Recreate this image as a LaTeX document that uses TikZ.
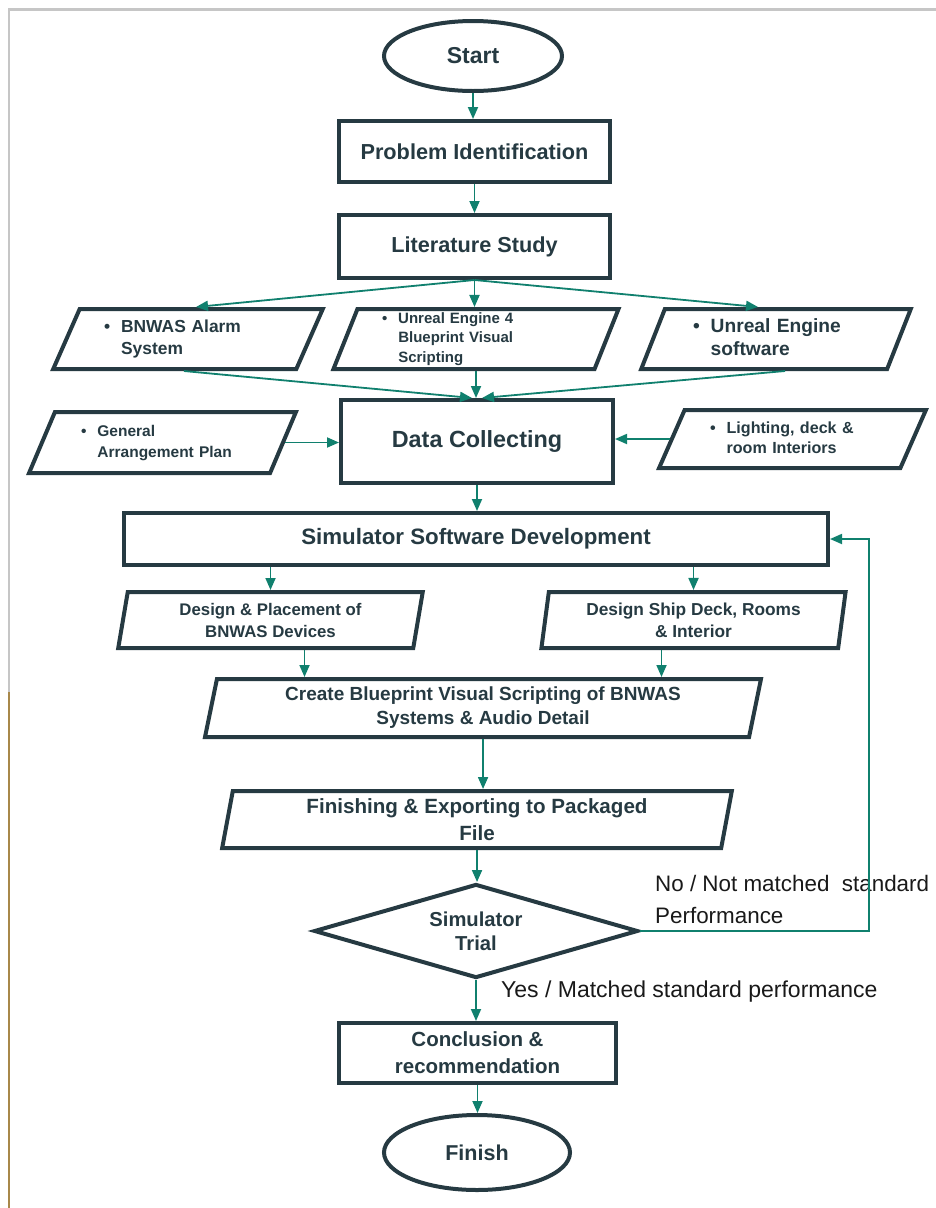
\documentclass[tikz,border=0pt]{standalone}
\usepackage{fontspec}
\setmainfont{Liberation Sans}
\usetikzlibrary{shapes.geometric,arrows.meta}
\definecolor{boxline}{HTML}{263A42}
\definecolor{flowline}{HTML}{10806E}
\definecolor{framegray}{HTML}{C6C6C6}
\definecolor{frametan}{HTML}{A8884A}
\newcommand{\bxfont}[2]{\fontsize{#1}{#2}\selectfont\bfseries}
\newcommand{\bul}[1]{\begin{tabular}[c]{@{}l@{\hspace{11pt}}l@{}}\textbullet&#1\end{tabular}}
\tikzset{
  base/.style={draw=boxline, line width=4pt, text=boxline, inner sep=0pt, align=center},
  proc/.style={base, rectangle},
  term/.style={base, ellipse},
  para/.style={base, trapezium, trapezium stretches, trapezium left angle=#1, trapezium right angle={180-#1}},
  dec/.style={base, diamond, aspect=3.45},
  flow/.style={draw=flowline, line width=1.8pt, -{Triangle[width=10pt,length=12pt]}},
  lbl/.style={anchor=west, inner sep=0pt, text=black!90},
}
\begin{document}
\begin{tikzpicture}[x=1pt,y=-1pt]
\useasboundingbox (0,0) rectangle (936,1208);
\draw[line width=3pt, framegray] (8,9.5) -- (936,9.5);
\draw[line width=2.5pt, framegray] (9,8) -- (9,692);
\draw[line width=2.5pt, frametan] (9,692) -- (9,1208);

\node[term, minimum width=178, minimum height=70, font=\bxfont{23}{27}] (start) at (473,56) {Start};
\node[proc, minimum width=271, minimum height=61, font=\bxfont{21.7}{26}] (prob) at (474.5,151.5) {Problem Identification};
\node[proc, minimum width=271, minimum height=63, font=\bxfont{21.7}{26}] (lit) at (474.5,246.5) {Literature Study};
\node[para=65, minimum width=270, minimum height=60, text width=168, align=left, font=\bxfont{17.4}{22}] (bnwas) at (188,339) {\bul{BNWAS Alarm\\&System}};
\node[para=72, minimum width=286, minimum height=60, text width=188, align=left, font=\bxfont{15}{19.5}] (ue4) at (476,339) {\bul{Unreal Engine 4\\&Blueprint Visual\\&Scripting}};
\node[para=69, minimum width=270, minimum height=60, text width=166, align=left, font=\bxfont{19.2}{23}] (uesw) at (776,339) {\bul{Unreal Engine\\&software}};
\node[proc, minimum width=272, minimum height=83, font=\bxfont{23.4}{28}] (data) at (477,441.5) {Data Collecting};
\node[para=65, minimum width=267, minimum height=61, text width=163, align=left, font=\bxfont{15.5}{21}] (gap) at (162.5,442.5) {\bul{General\\&Arrangement Plan}};
\node[para=64, minimum width=267, minimum height=58, text width=165, align=left, font=\bxfont{16.1}{20}] (light) at (792.5,439) {\bul{Lighting, deck \&\\&room Interiors}};
\node[proc, minimum width=704, minimum height=52, font=\bxfont{22.3}{26}] (sim) at (476,539) {Simulator Software Development};
\node[para=80, minimum width=305, minimum height=56, font=\bxfont{16.8}{22}] (place) at (270.5,620) {Design \& Placement of\\BNWAS Devices};
\node[para=81, minimum width=305, minimum height=56, font=\bxfont{17.3}{22}] (ship) at (693.5,620) {Design Ship Deck, Rooms\\\& Interior};
\node[para=78, minimum width=558, minimum height=58, font=\bxfont{19}{24}] (create) at (483,708) {Create Blueprint Visual Scripting of BNWAS\\Systems \& Audio Detail};
\node[para=80, minimum width=510, minimum height=57, font=\bxfont{20.6}{27}] (fin) at (477,819.5) {Finishing \& Exporting to Packaged\\File};
\node[dec, minimum width=324, minimum height=94, font=\bxfont{20.2}{24}] (trial) at (476,931) {Simulator\\Trial};
\node[proc, minimum width=277, minimum height=60, font=\bxfont{20.5}{27}] (concl) at (477.5,1053) {Conclusion \&\\recommendation};
\node[term, minimum width=186, minimum height=75, font=\bxfont{21.5}{26}] (finish) at (477,1152.5) {Finish};

\node[lbl, align=left, font=\fontsize{22.4}{32}\selectfont] (nolbl) at (655,899) {No / Not matched\ \ standard\\Performance};
\node[lbl, font=\fontsize{23}{28}\selectfont] (yeslbl) at (501,992) {Yes / Matched standard performance};

\draw[flow] (start.south) -- (start.south |- prob.north);
\draw[flow] (prob.south) -- (prob.south |- lit.north);
\draw[flow] (lit.south) -- ([xshift=8]bnwas.north);
\draw[flow] (lit.south) -- (lit.south |- ue4.north);
\draw[flow] (lit.south) -- ([xshift=-18]uesw.north);
\draw[flow] ([xshift=-4]bnwas.south) -- ([xshift=-5]data.north);
\draw[flow] (ue4.south) -- (ue4.south |- data.north);
\draw[flow] ([xshift=9]uesw.south) -- ([xshift=5]data.north);
\draw[flow] (gap.east) -- (gap.east -| data.west);
\draw[flow] (light.west) -- (light.west -| data.east);
\draw[flow] (data.south) -- (data.south |- sim.north);
\draw[flow] (sim.south -| place.north) -- (place.north);
\draw[flow] (sim.south -| ship.north) -- (ship.north);
\path ([xshift=34]place.south) coordinate (pd) ([xshift=-32]ship.south) coordinate (sd);
\draw[flow] (pd) -- (pd |- create.north);
\draw[flow] (sd) -- (sd |- create.north);
\draw[flow] (create.south) -- (create.south |- fin.north);
\draw[flow] (fin.south) -- (fin.south |- trial.north);
\draw[flow] (trial.south) -- (trial.south |- concl.north);
\draw[flow] (concl.south) -- (concl.south |- finish.north);
\coordinate (back) at (869,931);
\draw[flow] (trial.east) -- (back) |- (sim.east);
\end{tikzpicture}
\end{document}
